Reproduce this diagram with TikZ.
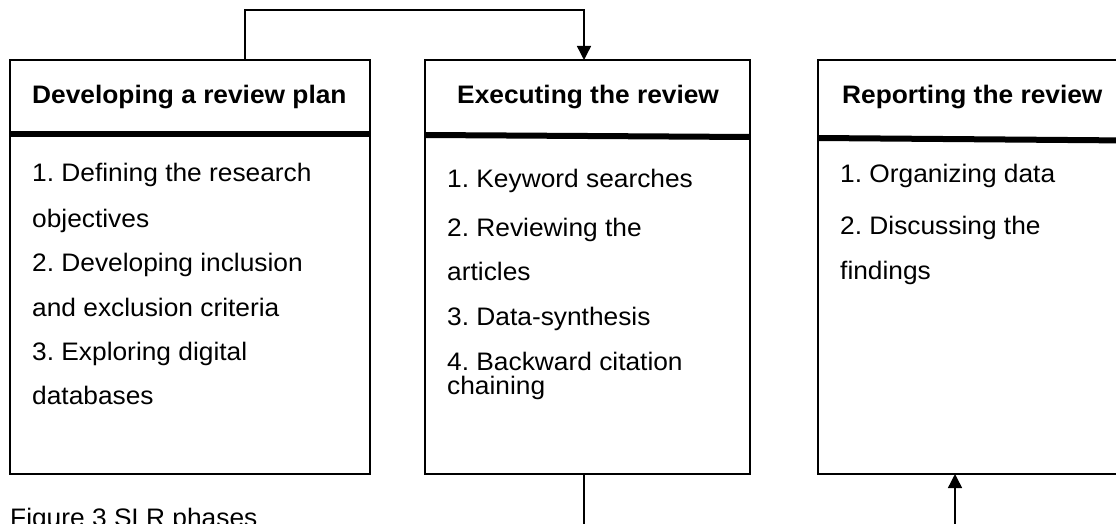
\documentclass[tikz,border=0pt]{standalone}
\usepackage{fontspec}
\setmainfont[FakeStretch=1.04]{Liberation Sans}
\usetikzlibrary{arrows.meta,calc}
\begin{document}
\frenchspacing
\begin{tikzpicture}[x=1pt,y=-1pt,
  box/.style={draw, line width=1.3pt, minimum width=#1, minimum height=414pt, inner sep=0pt, outer sep=0pt},
  sepline/.style={line width=6pt},
  head/.style={anchor=base west, inner sep=0pt, font=\fontsize{25.3}{29}\selectfont\bfseries},
  body/.style={anchor=base west, inner sep=0pt, font=\fontsize{25.3}{29}\selectfont},
  capt/.style={anchor=base west, inner sep=0pt, font=\fontsize{25.3}{29}\selectfont},
  conn/.style={line width=1.4pt},
  arr/.style={conn, -{Triangle[length=14pt,width=14pt]}}]
\useasboundingbox (0,0) rectangle (1116,524);
\clip (0,0) rectangle (1116,524);

% boxes
\node[box=360pt] (b1) at (190,267) {};
\node[box=325pt] (b2) at (587.5,267) {};
\node[box=312pt] (b3) at (974,267) {};

% thick separators
\draw[sepline] ([yshift=-74.5pt]b1.north west) -- ([yshift=-74.5pt]b1.north east);
\draw[sepline] ([yshift=-75pt]b2.north west) -- ([yshift=-77pt]b2.north east);
\draw[sepline] ([yshift=-78pt]b3.north west) -- ([yshift=-80.5pt]b3.north east);

% headers
\node[head] (h1) at (32,104) {Developing a review plan};
\node[head] (h2) at (457,104) {Executing the review};
\node[head] (h3) at (842,104) {Reporting the review};

% box 1 body
\node[body] (p11) at (32,181) {1. Defining the research};
\node[body] (p12) at (32,227) {objectives};
\node[body] (p13) at (32,271) {2. Developing inclusion};
\node[body] (p14) at (32,316) {and exclusion criteria};
\node[body] (p15) at (32,360) {3. Exploring digital};
\node[body] (p16) at (32,404) {databases};

% box 2 body
\node[body] (p21) at (447,187) {1. Keyword searches};
\node[body] (p22) at (447,236) {2. Reviewing the};
\node[body] (p23) at (447,280) {articles};
\node[body] (p24) at (447,325) {3. Data-synthesis};
\node[body] (p25) at (447,370) {4. Backward citation};
\node[body] (p26) at (447,394) {chaining};

% box 3 body
\node[body] (p31) at (840,182) {1. Organizing data};
\node[body] (p32) at (840,234) {2. Discussing the};
\node[body] (p33) at (840,279) {findings};

% caption (cut off at bottom, as in the reference)
\node[capt] (cap) at (10,526) {Figure 3 SLR phases};

% connectors
\coordinate (t1) at (245,10);
\coordinate (t2) at (584,10);
\draw[arr] (t1 |- b1.north) -- (t1) -- (t2) -- (t2 |- b2.north);
\coordinate (u1) at (584,530);
\draw[conn] (u1 |- b2.south) -- (u1);
\coordinate (u2) at (955,530);
\draw[arr] (u2) -- (u2 |- b3.south);
\end{tikzpicture}
\end{document}
